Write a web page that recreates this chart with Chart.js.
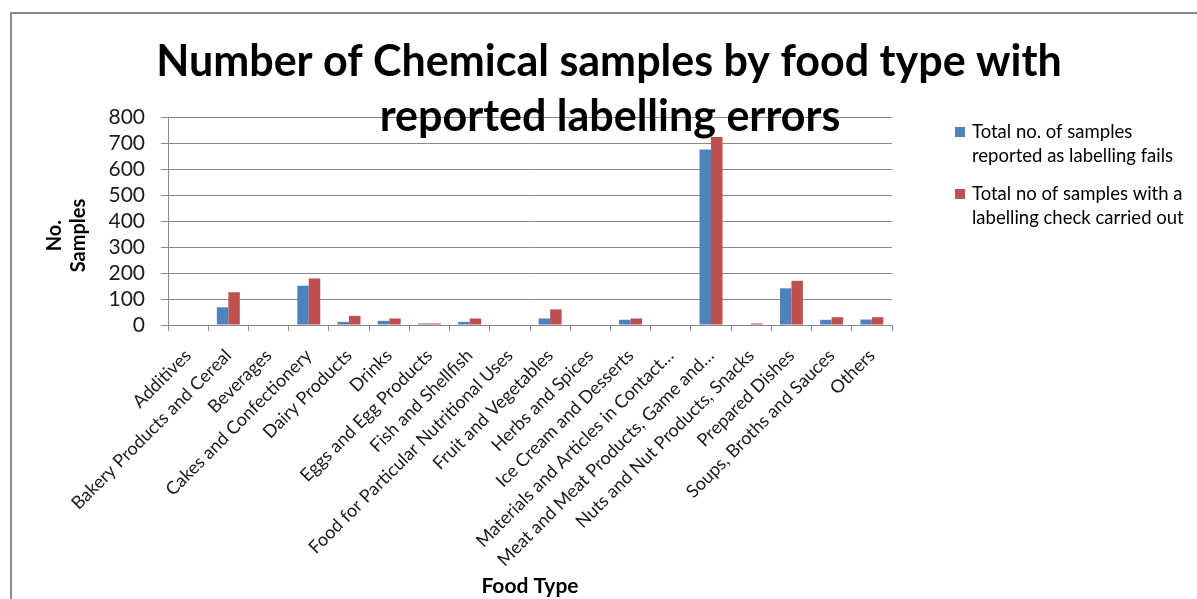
<!DOCTYPE html>
<html>
<head>
<meta charset="utf-8">
<script src="https://cdn.jsdelivr.net/npm/chart.js@4/dist/chart.umd.min.js"></script>
<style>
  html, body { margin: 0; padding: 0; background: #ffffff; }
  #wrap { width: 1197px; height: 599px; position: relative; }
</style>
</head>
<body>
<div id="wrap"><canvas id="c" width="1197" height="599"></canvas></div>
<script>
// Food types (x-axis categories)
const categories = [
  'Additives',
  'Bakery Products and Cereal',
  'Beverages',
  'Cakes and Confectionery',
  'Dairy Products',
  'Drinks',
  'Eggs and Egg Products',
  'Fish and Shellfish',
  'Food for Particular Nutritional Uses',
  'Fruit and Vegetables',
  'Herbs and Spices',
  'Ice Cream and Desserts',
  'Materials and Articles in Contact…',
  'Meat and Meat Products, Game and…',
  'Nuts and Nut Products, Snacks',
  'Prepared Dishes',
  'Soups, Broths and Sauces',
  'Others'
];

// Series values
const labellingFails = [0, 68, 0, 151, 12, 16, 6, 12, 0, 25, 0, 20, 0, 675, 0, 141, 20, 21];
const labellingChecks = [0, 126, 0, 179, 35, 25, 6, 25, 0, 60, 0, 25, 0, 723, 6, 170, 30, 30];

const seriesNames = [
  'Total no. of samples reported as labelling fails',
  'Total no of samples with a labelling check carried out'
];
const seriesColors = ['#4F81BD', '#C0504D'];

// Y-axis ticks
const yTicks = [0, 100, 200, 300, 400, 500, 600, 700, 800];

const titleLines = ['Number of Chemical samples by food type with', 'reported labelling errors'];
// trailing spaces nudge the rotated title a little lower along the axis
const yTitle = ['No.      ', 'Samples      '];
const xTitle = 'Food Type';

const FONT = 'Lato, "Open Sans", sans-serif';
const GRID = '#8a8a8a';

// Outer frame of the chart object
const framePlugin = {
  id: 'frame',
  beforeDraw(chart) {
    const ctx = chart.ctx;
    ctx.save();
    ctx.fillStyle = '#ffffff';
    ctx.fillRect(0, 0, chart.width, chart.height);
    ctx.strokeStyle = '#888888';
    ctx.lineWidth = 2;
    ctx.strokeRect(11, 13, chart.width + 20, chart.height + 20);
    ctx.restore();
  }
};

// Two-line chart title that sits over the top of the plot area
const titlePlugin = {
  id: 'bigTitle',
  afterDraw(chart) {
    const ctx = chart.ctx;
    ctx.save();
    ctx.font = 'bold 43px ' + FONT;
    ctx.fillStyle = '#000000';
    ctx.textAlign = 'center';
    ctx.textBaseline = 'alphabetic';
    ctx.fillText(titleLines[0], 609, 76);
    ctx.fillText(titleLines[1], 610, 131);
    ctx.restore();
  }
};

// Legend on the right, each entry wrapped onto two lines
const legendPlugin = {
  id: 'sideLegend',
  afterDraw(chart) {
    const ctx = chart.ctx;
    ctx.save();
    ctx.font = '18.5px ' + FONT;
    ctx.fillStyle = '#000000';
    ctx.textBaseline = 'alphabetic';
    const maxW = 220;
    let y = 138;
    chart.data.datasets.forEach((ds) => {
      const words = ds.label.split(' ');
      const lines = [];
      let cur = '';
      words.forEach((w) => {
        const test = cur ? cur + ' ' + w : w;
        if (ctx.measureText(test).width > maxW && cur) {
          lines.push(cur);
          cur = w;
        } else {
          cur = test;
        }
      });
      if (cur) lines.push(cur);
      ctx.fillStyle = ds.backgroundColor;
      ctx.fillRect(955, y - 11, 10, 10);
      ctx.fillStyle = '#000000';
      lines.forEach((ln, i) => ctx.fillText(ln, 972, y + i * 24));
      y += lines.length * 24 + 14;
    });
    ctx.restore();
  }
};

new Chart(document.getElementById('c'), {
  type: 'bar',
  data: {
    labels: categories,
    datasets: [
      {
        label: seriesNames[0],
        data: labellingFails,
        backgroundColor: seriesColors[0],
        categoryPercentage: 0.571,
        barPercentage: 1.0
      },
      {
        label: seriesNames[1],
        data: labellingChecks,
        backgroundColor: seriesColors[1],
        categoryPercentage: 0.571,
        barPercentage: 1.0
      }
    ]
  },
  options: {
    responsive: false,
    animation: false,
    layout: { padding: { top: 117, right: 305, left: 0, bottom: 0 } },
    plugins: {
      legend: { display: false },
      title: { display: false },
      tooltip: { enabled: false }
    },
    scales: {
      x: {
        offset: true,
        grid: {
          offset: true,
          drawOnChartArea: false,
          drawTicks: true,
          tickLength: 6,
          color: GRID
        },
        border: { display: true, color: GRID, width: 1 },
        ticks: {
          autoSkip: false,
          maxRotation: 45,
          minRotation: 45,
          padding: 14,
          color: '#1a1a1a',
          font: { family: FONT, size: 18 }
        },
        title: {
          display: true,
          text: xTitle,
          color: '#000000',
          font: { family: FONT, size: 21, weight: 'bold' },
          padding: { top: 0, bottom: 0 }
        },
        afterFit(scale) { scale.height = 274; }
      },
      y: {
        min: 0,
        max: 800,
        afterBuildTicks(scale) { scale.ticks = yTicks.map((v) => ({ value: v })); },
        grid: {
          color: GRID,
          drawTicks: true,
          tickLength: 7
        },
        border: { display: true, color: GRID, width: 1 },
        ticks: {
          autoSkip: false,
          padding: 16,
          color: '#1a1a1a',
          font: { family: FONT, size: 21 }
        },
        title: {
          display: true,
          text: yTitle,
          color: '#000000',
          font: { family: FONT, size: 20, weight: 'bold' },
          padding: { top: 43, bottom: 0 }
        },
        afterFit(scale) { scale.width = 168; }
      }
    }
  },
  plugins: [framePlugin, titlePlugin, legendPlugin]
});
</script>
</body>
</html>
